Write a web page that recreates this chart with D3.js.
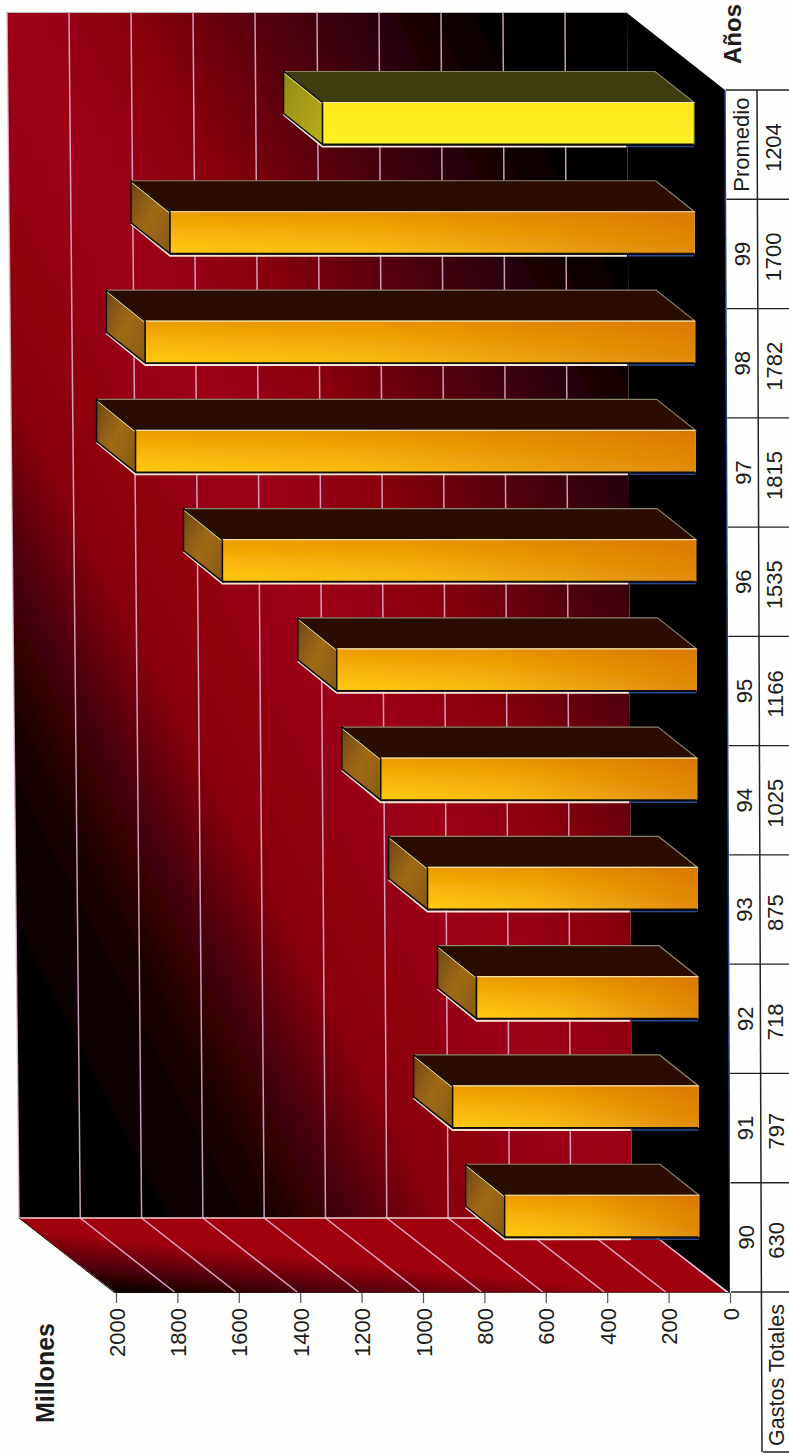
<!DOCTYPE html>
<html><head><meta charset="utf-8">
<script src="https://cdn.jsdelivr.net/npm/d3@7/dist/d3.min.js"></script>
<style>html,body{margin:0;padding:0;background:#fefefc;overflow:hidden}svg{display:block}
text{font-family:"Liberation Sans",Arial,sans-serif;fill:#1c1c1c}</style></head><body>
<svg id="c" width="789" height="1456"></svg>
<script>
const categories=["Promedio","99","98","97","96","95","94","93","92","91","90"];
const values=[1204,1700,1782,1815,1535,1166,1025,875,718,797,630];
const tickValues=[0,200,400,600,800,1000,1200,1400,1600,1800,2000];
const axisTitle="Millones", catTitle="Años", rowTitle="Gastos Totales";

const svg=d3.select("#c");
const defs=svg.append("defs");
function grad(id,x1,y1,x2,y2,stops,units){
  const g=defs.append("linearGradient").attr("id",id).attr("x1",x1).attr("y1",y1).attr("x2",x2).attr("y2",y2);
  if(units)g.attr("gradientUnits",units);
  stops.forEach(s=>g.append("stop").attr("offset",s[0]).attr("stop-color",s[1]).attr("stop-opacity",s[2]==null?1:s[2]));
}
const wallStops=[[-450,"#000000"],[-330,"#140002"],[-250,"#480008"],[-170,"#88000f"],[0,"#9e0014"],[110,"#8a0010"],[220,"#56000e"],[320,"#2a0008"],[400,"#080002"],[470,"#000000"]];
grad("wall",-392,220,425,-203,wallStops.map(s=>[(s[0]+450)/920,s[1]]),"userSpaceOnUse");
grad("side",115,1293,121,1233,[[0,"#000"],[.4,"#500008"],[.9,"#a00010"],[1,"#a00010"]],"userSpaceOnUse");
grad("front",0,0,0,1,[[0,"#eb9c00"],[.5,"#f8b408"],[1,"#ffca10"]]);
grad("frontO",0,0,1,0,[[0,"#c85a00",0],[.4,"#c85a00",.12],[1,"#c85a00",.55]]);
grad("frontP",0,0,0,1,[[0,"#ffe81a"],[1,"#fff028"]]);
grad("end",0,0,1,1,[[0,"#6e4410"],[.5,"#a06a18"],[1,"#86580f"]]);
grad("endP",0,0,1,1,[[0,"#8f8a10"],[1,"#bcb020"]]);
defs.append("filter").attr("id","soft").attr("x",0).attr("y",0).attr("width",1).attr("height",1)
  .append("feGaussianBlur").attr("stdDeviation",.45);

// geometry of the (slightly skewed) scanned page
const Y0=13,Y1=1218,FY=1293;
const lerp=(a,b,t)=>a+(b-a)*t;
const wallX=(v,y)=>{const t=(y-Y0)/(Y1-Y0);
  return lerp(d3.scaleLinear([0,2000],[627,7])(v),d3.scaleLinear([0,2000],[632,19])(v),t);};
const axisX=d3.scaleLinear([0,2000],[730,116]);
const band=d3.scaleBand(categories,[90,1292]);
const barLen=d3.scaleLinear([0,2000],[0,617]);
const base=y=>694+(y-100)*.0046;
const tableX=y=>(y-90)*.0042;

const g=svg.append("g").attr("filter","url(#soft)");
// floor
g.append("polygon").attr("fill","#000").attr("points",[[627,Y0],[725,90],[730,FY],[632,Y1]].map(String).join(" "));
g.append("line").attr("x1",725).attr("y1",90).attr("x2",730).attr("y2",FY).attr("stroke","#28408a").attr("stroke-width",1.5);
// back wall
g.append("polygon").attr("fill","url(#wall)").attr("points",[[wallX(2000,Y0),Y0],[wallX(0,Y0),Y0],[wallX(0,Y1),Y1],[wallX(2000,Y1),Y1]].map(String).join(" "));
// side wall
g.append("polygon").attr("fill","url(#side)").attr("points",[[wallX(2000,Y1),Y1],[wallX(0,Y1),Y1],[axisX(0)-4,FY-1],[axisX(2000),FY]].map(String).join(" "));
// grid
const stroke="#e6b8d8";
g.selectAll(".gw").data(tickValues.slice(1)).join("line").attr("stroke",stroke).attr("stroke-width",1.5).attr("opacity",.85)
 .attr("x1",d=>wallX(d,Y0)).attr("y1",Y0).attr("x2",d=>wallX(d,Y1)).attr("y2",Y1);
g.selectAll(".gs").data(tickValues.slice(0,-1)).join("line").attr("stroke",stroke).attr("stroke-width",1.5).attr("opacity",.9)
 .attr("x1",d=>wallX(d,Y1)).attr("y1",Y1).attr("x2",d=>axisX(d)-3).attr("y2",FY-1);
g.append("line").attr("x1",wallX(2000,Y1)).attr("y1",Y1).attr("x2",wallX(0,Y1)).attr("y2",Y1).attr("stroke","#f0d0d0").attr("stroke-width",1.5);
g.append("line").attr("x1",6).attr("y1",Y0-1).attr("x2",627).attr("y2",Y0-1).attr("stroke","#777").attr("stroke-width",1.2);
g.append("line").attr("x1",wallX(2000,Y1)).attr("y1",Y1).attr("x2",axisX(2000)-1).attr("y2",FY).attr("stroke","#200").attr("stroke-width",1);
g.append("line").attr("x1",axisX(2000)-1).attr("y1",FY).attr("x2",axisX(0)).attr("y2",FY).attr("stroke","#200").attr("stroke-width",1.5);

// bars
const bdx=-39,bdy=-31,bh=42;
categories.forEach((c,i)=>{
  const v=values[i],P=c==="Promedio",t=band(c)+12.5,b=t+bh;
  const xr=base(t),xl=xr-barLen(v);
  const pts=a=>a.map(String).join(" ");
  g.append("polyline").attr("fill","none").attr("stroke","#f4e6d8").attr("stroke-width",2)
    .attr("points",pts([[xl+bdx,b+bdy+1],[xl,b+2],[wallX(0,b)-1,b+2]]));
  g.append("line").attr("x1",wallX(0,b)).attr("y1",b+2).attr("x2",xr).attr("y2",b+2).attr("stroke","#2a4a90").attr("stroke-width",1.5);
  g.append("polygon").attr("fill",P?"#3e3c10":"#2a0c02").attr("stroke","#8a8468").attr("stroke-width",1.2)
    .attr("points",pts([[xl+bdx,t+bdy],[xr+bdx,t+bdy],[xr,t],[xl,t]]));
  g.append("line").attr("x1",xl+bdx).attr("y1",t+bdy).attr("x2",xl).attr("y2",t).attr("stroke","#111").attr("stroke-width",1.5);
  g.append("polygon").attr("fill",P?"url(#endP)":"url(#end)").attr("stroke","#111").attr("stroke-width",1.5)
    .attr("points",pts([[xl+bdx,t+bdy],[xl,t],[xl,b],[xl+bdx,b+bdy]]));
  g.append("line").attr("x1",xl+bdx+1).attr("y1",t+bdy+2).attr("x2",xl-1).attr("y2",t+1).attr("stroke",P?"#f0e880":"#f0d8a0").attr("stroke-width",1);
  g.append("rect").attr("x",xl).attr("y",t).attr("width",xr-xl).attr("height",bh).attr("fill",P?"url(#frontP)":"url(#front)");
  if(!P)g.append("rect").attr("x",xl).attr("y",t).attr("width",xr-xl).attr("height",bh).attr("fill","url(#frontO)");
  g.append("line").attr("x1",xl).attr("y1",t).attr("x2",xr).attr("y2",t).attr("stroke","#f6e2b0").attr("stroke-width",1.2);
  g.append("line").attr("x1",xl).attr("y1",b).attr("x2",xr).attr("y2",b).attr("stroke","#111").attr("stroke-width",1.8);
  g.append("line").attr("x1",xl).attr("y1",t).attr("x2",xl).attr("y2",b).attr("stroke","#111").attr("stroke-width",1.4);
  g.append("line").attr("x1",xr).attr("y1",t).attr("x2",xr).attr("y2",b).attr("stroke",P?"#c0b000":"#d09030").attr("stroke-width",1);
});

// value axis
const ax=svg.append("g").attr("transform",`translate(0,${FY})`).call(d3.axisBottom(axisX).tickValues(tickValues).tickSize(10).tickFormat(d3.format("d")));
ax.select(".domain").remove();
ax.selectAll("line").attr("stroke","#555").attr("stroke-width",1.2);
ax.selectAll("text").attr("font-size",22).style("fill","#1c1c1c").attr("text-anchor","end").attr("dy",0)
  .attr("y",0).attr("x",0).attr("transform","translate(8,15) rotate(-90)");

// table
const t=svg.append("g");
const rot=(x,y)=>`translate(${x},${y}) rotate(-90)`;
const lineC="#222";
const boundaries=categories.map(c=>band(c)).concat([band.range()[1]]);
t.selectAll(".d").data(boundaries).join("line").attr("stroke",lineC).attr("stroke-width",1.3)
 .attr("x1",d=>726+tableX(d)).attr("x2",789).attr("y1",d=>d).attr("y2",d=>d);
t.append("line").attr("x1",757).attr("y1",90).attr("x2",762).attr("y2",1452).attr("stroke",lineC).attr("stroke-width",1.5);
t.append("line").attr("x1",763).attr("y1",1452).attr("x2",789).attr("y2",1452).attr("stroke",lineC).attr("stroke-width",1.5);
t.selectAll(".cat").data(categories).join("text").attr("font-size",22).attr("text-anchor","middle")
 .attr("transform",d=>{const y=band(d)+band.bandwidth()/2;return rot(749+tableX(y),y)}).text(d=>d);
t.selectAll(".val").data(values).join("text").attr("font-size",22).attr("text-anchor","middle")
 .attr("transform",(d,i)=>{const y=band(categories[i])+band.bandwidth()/2;return rot(781+tableX(y)*.6,y+3)}).text(d=>d);
t.append("text").attr("font-size",21.5).attr("text-anchor","middle").attr("transform",rot(784,1375)).text(rowTitle);
svg.append("text").attr("font-size",25).attr("font-weight","bold").attr("text-anchor","middle").attr("transform",rot(54,1373)).text(axisTitle);
svg.append("text").attr("font-size",24).attr("font-weight","bold").attr("text-anchor","middle").attr("transform",rot(741,34)).text(catTitle);
</script></body></html>
